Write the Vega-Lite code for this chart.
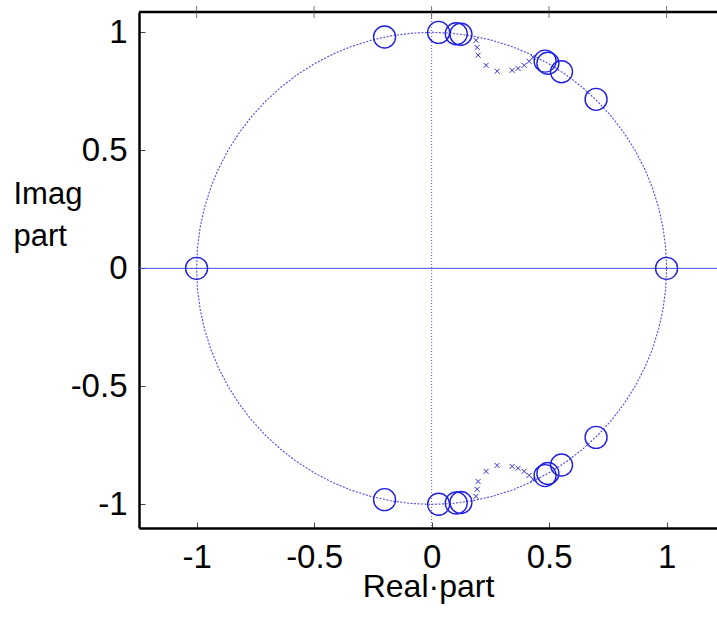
{
  "$schema": "https://vega.github.io/schema/vega-lite/v6.json",
  "width": 578,
  "height": 516,
  "autosize": {"type": "none"},
  "padding": {"left": 139, "top": 12, "right": 0, "bottom": 93},
  "background": "white",
  "config": {
    "view": {"stroke": null},
    "axis": {
      "labelFont": "Liberation Sans",
      "titleFont": "Liberation Sans",
      "labelColor": "#000",
      "titleColor": "#000",
      "domainColor": "#000",
      "domainWidth": 2.5,
      "tickColor": "#444",
      "tickWidth": 1,
      "tickSize": -6,
      "grid": false,
      "labelFontSize": 33,
      "titleFontSize": 32,
      "titleFontWeight": "normal"
    }
  },
  "datasets": {
    "circle": [
      {"i":0,"x":1,"y":0},{"i":5,"x":0.9962,"y":0.0872},{"i":10,"x":0.9848,"y":0.1736},{"i":15,"x":0.9659,"y":0.2588},
      {"i":20,"x":0.9397,"y":0.342},{"i":25,"x":0.9063,"y":0.4226},{"i":30,"x":0.866,"y":0.5},{"i":35,"x":0.8192,"y":0.5736},
      {"i":40,"x":0.766,"y":0.6428},{"i":45,"x":0.7071,"y":0.7071},{"i":50,"x":0.6428,"y":0.766},{"i":55,"x":0.5736,"y":0.8192},
      {"i":60,"x":0.5,"y":0.866},{"i":65,"x":0.4226,"y":0.9063},{"i":70,"x":0.342,"y":0.9397},{"i":75,"x":0.2588,"y":0.9659},
      {"i":80,"x":0.1736,"y":0.9848},{"i":85,"x":0.0872,"y":0.9962},{"i":90,"x":0,"y":1},{"i":95,"x":-0.0872,"y":0.9962},
      {"i":100,"x":-0.1736,"y":0.9848},{"i":105,"x":-0.2588,"y":0.9659},{"i":110,"x":-0.342,"y":0.9397},{"i":115,"x":-0.4226,"y":0.9063},
      {"i":120,"x":-0.5,"y":0.866},{"i":125,"x":-0.5736,"y":0.8192},{"i":130,"x":-0.6428,"y":0.766},{"i":135,"x":-0.7071,"y":0.7071},
      {"i":140,"x":-0.766,"y":0.6428},{"i":145,"x":-0.8192,"y":0.5736},{"i":150,"x":-0.866,"y":0.5},{"i":155,"x":-0.9063,"y":0.4226},
      {"i":160,"x":-0.9397,"y":0.342},{"i":165,"x":-0.9659,"y":0.2588},{"i":170,"x":-0.9848,"y":0.1736},{"i":175,"x":-0.9962,"y":0.0872},
      {"i":180,"x":-1,"y":0},{"i":185,"x":-0.9962,"y":-0.0872},{"i":190,"x":-0.9848,"y":-0.1736},{"i":195,"x":-0.9659,"y":-0.2588},
      {"i":200,"x":-0.9397,"y":-0.342},{"i":205,"x":-0.9063,"y":-0.4226},{"i":210,"x":-0.866,"y":-0.5},{"i":215,"x":-0.8192,"y":-0.5736},
      {"i":220,"x":-0.766,"y":-0.6428},{"i":225,"x":-0.7071,"y":-0.7071},{"i":230,"x":-0.6428,"y":-0.766},{"i":235,"x":-0.5736,"y":-0.8192},
      {"i":240,"x":-0.5,"y":-0.866},{"i":245,"x":-0.4226,"y":-0.9063},{"i":250,"x":-0.342,"y":-0.9397},{"i":255,"x":-0.2588,"y":-0.9659},
      {"i":260,"x":-0.1736,"y":-0.9848},{"i":265,"x":-0.0872,"y":-0.9962},{"i":270,"x":0,"y":-1},{"i":275,"x":0.0872,"y":-0.9962},
      {"i":280,"x":0.1736,"y":-0.9848},{"i":285,"x":0.2588,"y":-0.9659},{"i":290,"x":0.342,"y":-0.9397},{"i":295,"x":0.4226,"y":-0.9063},
      {"i":300,"x":0.5,"y":-0.866},{"i":305,"x":0.5736,"y":-0.8192},{"i":310,"x":0.6428,"y":-0.766},{"i":315,"x":0.7071,"y":-0.7071},
      {"i":320,"x":0.766,"y":-0.6428},{"i":325,"x":0.8192,"y":-0.5736},{"i":330,"x":0.866,"y":-0.5},{"i":335,"x":0.9063,"y":-0.4226},
      {"i":340,"x":0.9397,"y":-0.342},{"i":345,"x":0.9659,"y":-0.2588},{"i":350,"x":0.9848,"y":-0.1736},{"i":355,"x":0.9962,"y":-0.0872},
      {"i":360,"x":1,"y":0}
    ],
    "zeros": [
      {"x":-1,"y":0},{"x":1,"y":0},
      {"x":-0.2,"y":0.98},{"x":-0.2,"y":-0.98},
      {"x":0.03,"y":0.9995},{"x":0.03,"y":-0.9995},
      {"x":0.105,"y":0.994},{"x":0.105,"y":-0.994},
      {"x":0.125,"y":0.992},{"x":0.125,"y":-0.992},
      {"x":0.483,"y":0.878},{"x":0.483,"y":-0.878},
      {"x":0.495,"y":0.869},{"x":0.495,"y":-0.869},
      {"x":0.553,"y":0.833},{"x":0.553,"y":-0.833},
      {"x":0.70,"y":0.716},{"x":0.70,"y":-0.716}
    ],
    "poles": [
      {"x":0.189,"y":0.966},{"x":0.194,"y":0.936},{"x":0.198,"y":0.903},{"x":0.232,"y":0.86},{"x":0.279,"y":0.835},
      {"x":0.343,"y":0.839},{"x":0.368,"y":0.847},{"x":0.394,"y":0.86},{"x":0.415,"y":0.877},{"x":0.432,"y":0.894},
      {"x":0.189,"y":-0.966},{"x":0.194,"y":-0.936},{"x":0.198,"y":-0.903},{"x":0.232,"y":-0.86},{"x":0.279,"y":-0.835},
      {"x":0.343,"y":-0.839},{"x":0.368,"y":-0.847},{"x":0.394,"y":-0.86},{"x":0.415,"y":-0.877},{"x":0.432,"y":-0.894}
    ],
    "origin": [{"v": 0}],
    "top": [{"v": 1.086}],
    "topticks": [{"x": -1}, {"x": -0.5}, {"x": 0}, {"x": 0.5}, {"x": 1}]
  },
  "layer": [
    {
      "data": {"name": "origin"},
      "mark": {"type": "rule", "color": "#4a4ae6", "strokeWidth": 1},
      "encoding": {"y": {"field": "v", "type": "quantitative"}}
    },
    {
      "data": {"name": "origin"},
      "mark": {"type": "rule", "color": "#6a6ae6", "strokeWidth": 1.2, "strokeDash": [1, 2]},
      "encoding": {"x": {"field": "v", "type": "quantitative"}}
    },
    {
      "data": {"name": "circle"},
      "mark": {"type": "line", "color": "#4a4ae6", "strokeWidth": 1.1, "strokeDash": [2, 1.5]},
      "encoding": {
        "x": {"field": "x", "type": "quantitative",
          "scale": {"domain": [-1.245, 1.2146], "nice": false, "zero": false},
          "axis": {"orient": "bottom", "values": [-1, -0.5, 0, 0.5, 1], "labelExpr": "'' + datum.value",
            "labelPadding": 19, "title": "Real·part", "titleBaseline": "alphabetic", "titleY": 68}},
        "y": {"field": "y", "type": "quantitative",
          "scale": {"domain": [-1.1, 1.086], "nice": false, "zero": false},
          "axis": {"orient": "left", "values": [-1, -0.5, 0, 0.5, 1], "labelExpr": "'' + datum.value",
            "labelPadding": 18, "title": ["Imag", "part"], "titleAngle": 0, "titleAlign": "left",
            "titleBaseline": "alphabetic", "titleX": -126, "titleY": 191, "titleLineHeight": 42, "titleFontSize": 31}},
        "order": {"field": "i", "type": "quantitative"}
      }
    },
    {
      "data": {"name": "zeros"},
      "mark": {"type": "point", "shape": "circle", "filled": false, "size": 484, "color": "#2020e0", "strokeWidth": 1.4, "opacity": 1},
      "encoding": {
        "x": {"field": "x", "type": "quantitative"},
        "y": {"field": "y", "type": "quantitative"}
      }
    },
    {
      "data": {"name": "poles"},
      "mark": {"type": "point", "shape": "M-1,-1L1,1M-1,1L1,-1", "filled": false, "size": 25, "color": "#3030d0", "strokeWidth": 1, "opacity": 1},
      "encoding": {
        "x": {"field": "x", "type": "quantitative"},
        "y": {"field": "y", "type": "quantitative"}
      }
    },
    {
      "data": {"name": "top"},
      "mark": {"type": "rule", "color": "#000", "strokeWidth": 2.5},
      "encoding": {"y": {"field": "v", "type": "quantitative"}}
    },
    {
      "data": {"name": "topticks"},
      "mark": {"type": "tick", "orient": "vertical", "color": "#444", "thickness": 1, "size": 12},
      "encoding": {
        "x": {"field": "x", "type": "quantitative"},
        "y": {"datum": 1.086, "type": "quantitative"}
      }
    }
  ]
}
